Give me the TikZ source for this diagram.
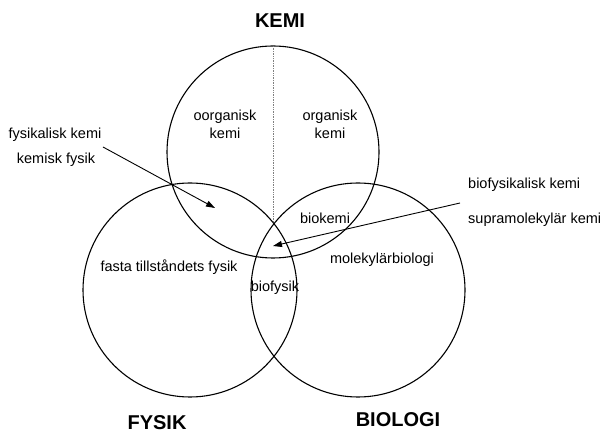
\documentclass[tikz,border=0pt]{standalone}
\usepackage{fontspec}
\setmainfont{Liberation Sans}
\usetikzlibrary{arrows.meta}
\begin{document}
\begin{tikzpicture}[x=1pt,y=1pt,
  field/.style={circle,draw,line width=1.1pt,inner sep=0pt,outer sep=0pt},
  title/.style={font=\fontsize{20}{22}\selectfont\bfseries,inner sep=0pt},
  lab/.style={font=\fontsize{14.5}{18}\selectfont,inner sep=0pt,align=center},
  pointer/.style={line width=0.9pt,-{Triangle[length=9pt,width=6pt]}},
  divider/.style={gray,line width=0.7pt,densely dotted}]
\useasboundingbox (0,0) rectangle (604,433);
\node[field,minimum size=212pt] (K) at (273,281) {};
\node[field,minimum size=214pt] (F) at (190,143) {};
\node[field,minimum size=214pt] (B) at (358,143) {};
\coordinate (vbot) at (273,211);
\draw[divider] (K.north) -- (vbot);
\node[title] (kemi) at (280,412) {KEMI};
\node[title] (fysik) at (157,10.5) {FYSIK};
\node[title] (biologi) at (398,13) {BIOLOGI};
\node[lab] (oorg) at (225,309) {oorganisk\\kemi};
\node[lab] (org) at (330,309) {organisk\\kemi};
\node[lab] (fk) at (55,298) {fysikalisk kemi};
\node[lab] (kf) at (56,273) {kemisk fysik};
\node[lab] (fasta) at (169,166) {fasta tillståndets fysik};
\node[lab] (biok) at (325,215) {biokemi};
\node[lab] (molb) at (382,173) {molekylärbiologi};
\node[lab] (biof) at (275,145) {biofysik};
\node[lab,anchor=west] (bfk) at (468,248) {biofysikalisk kemi};
\node[lab,anchor=west] (smk) at (468,213) {supramolekylär kemi};
\coordinate (a1s) at (103,286);
\coordinate (a1e) at (215,225);
\coordinate (a2s) at (460,230);
\coordinate (a2e) at (273,187);
\draw[pointer] (a1s) -- (a1e);
\draw[pointer] (a2s) -- (a2e);
\end{tikzpicture}
\end{document}
